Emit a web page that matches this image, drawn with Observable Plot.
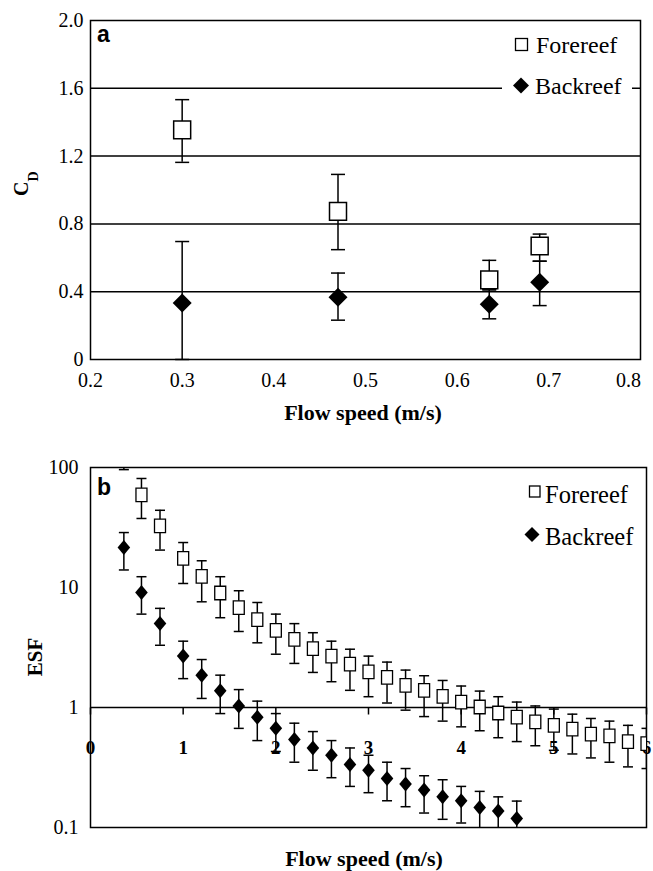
<!DOCTYPE html>
<html><head><meta charset="utf-8">
<script src="https://cdn.jsdelivr.net/npm/d3@7"></script>
<script src="https://cdn.jsdelivr.net/npm/@observablehq/plot@0.6"></script>
<style>
body{margin:0;background:#fff;}
#wrap{position:relative;width:653px;height:871px;overflow:hidden;font-family:"Liberation Serif","Times New Roman",serif;}
#wrap > div{position:absolute;left:0;}
#wrap svg{font-family:"Liberation Serif","Times New Roman",serif !important;}
#wrap svg text.sans{font-family:"Liberation Sans",Arial,sans-serif !important;}
</style></head><body><div id="wrap"><div id="pa" style="top:0"></div><div id="pb" style="top:430px"></div></div>
<script>
// ---------- Panel a: drag coefficient ----------
const speedA = [0.30, 0.47, 0.635, 0.69];
const foreCd = [1.355, 0.874, 0.47, 0.67];
const foreCdLo = [1.163, 0.648, 0.415, 0.58];
const foreCdHi = [1.533, 1.092, 0.585, 0.74];
const backCd = [0.333, 0.367, 0.326, 0.456];
const backCdLo = [0.0, 0.232, 0.24, 0.318];
const backCdHi = [0.696, 0.51, 0.41, 0.58];
const cdTicks = [0, 0.4, 0.8, 1.2, 1.6, 2.0];
const speedTicksA = [0.2, 0.3, 0.4, 0.5, 0.6, 0.7, 0.8];

// ---------- Panel b: environmental stress factor ----------
const speedFore = [0.36, 0.55, 0.75, 1.0, 1.2, 1.4, 1.6, 1.8, 2.0, 2.2, 2.4, 2.6, 2.8, 3.0, 3.2, 3.4, 3.6, 3.8, 4.0, 4.2, 4.4, 4.6, 4.8, 5.0, 5.2, 5.4, 5.6, 5.8, 6.0];
const foreESF = [170, 59.2, 32.6, 17.5, 12.4, 9.0, 6.8, 5.4, 4.4, 3.69, 3.1, 2.68, 2.30, 1.98, 1.78, 1.53, 1.39, 1.24, 1.11, 1.01, 0.90, 0.83, 0.76, 0.71, 0.66, 0.60, 0.58, 0.52, 0.50];
const foreESFHi = [250, 81, 44, 23.7, 16.7, 12.3, 9.4, 7.5, 6.0, 5.0, 4.2, 3.57, 3.06, 2.68, 2.39, 2.05, 1.84, 1.68, 1.51, 1.37, 1.23, 1.11, 1.03, 0.97, 0.88, 0.81, 0.77, 0.71, 0.67];
const foreESFLo = [96, 37.6, 20.5, 10.8, 7.6, 5.6, 4.3, 3.46, 2.78, 2.33, 1.96, 1.64, 1.39, 1.23, 1.09, 0.95, 0.84, 0.77, 0.69, 0.64, 0.56, 0.52, 0.48, 0.44, 0.41, 0.38, 0.35, 0.32, 0.31];
const speedBack = [0.36, 0.55, 0.75, 1.0, 1.2, 1.4, 1.6, 1.8, 2.0, 2.2, 2.4, 2.6, 2.8, 3.0, 3.2, 3.4, 3.6, 3.8, 4.0, 4.2, 4.4, 4.6];
const backESF = [21.5, 9.1, 5.0, 2.68, 1.86, 1.38, 1.03, 0.83, 0.67, 0.54, 0.46, 0.40, 0.335, 0.30, 0.256, 0.23, 0.205, 0.18, 0.167, 0.147, 0.137, 0.119];
const backESFHi = [28.7, 12.3, 6.7, 3.57, 2.51, 1.86, 1.41, 1.13, 0.89, 0.74, 0.63, 0.53, 0.46, 0.40, 0.35, 0.31, 0.27, 0.25, 0.22, 0.20, 0.18, 0.166];
const backESFLo = [14.0, 6.0, 3.3, 1.74, 1.19, 0.89, 0.67, 0.53, 0.43, 0.35, 0.30, 0.26, 0.22, 0.195, 0.167, 0.149, 0.132, 0.117, 0.109, 0.095, 0.09, 0.085];
const esfTicks = [0.1, 1, 10, 100];
const speedTicksB = [0, 1, 2, 3, 4, 5, 6];

const seriesNames = ["Forereef", "Backreef"];

// ---------- symbols ----------
const sym = fn => ({draw: fn});
const rectSym = (hw, hh) => sym(c => { c.moveTo(-hw, -hh); c.lineTo(hw, -hh); c.lineTo(hw, hh); c.lineTo(-hw, hh); c.closePath(); });
const diaSym = (hw, hh) => sym(c => { c.moveTo(0, -hh); c.lineTo(hw, 0); c.lineTo(0, hh); c.lineTo(-hw, 0); c.closePath(); });
const capSym = hw => sym(c => { c.moveTo(-hw, 0); c.lineTo(hw, 0); });
const vtickSym = h => sym(c => { c.moveTo(0, 0); c.lineTo(0, h); });

const rows = (xs, ys, lo, hi) => xs.map((x, i) => ({x, y: ys[i], lo: lo[i], hi: hi[i]}));
const foreA = rows(speedA, foreCd, foreCdLo, foreCdHi);
const backA = rows(speedA, backCd, backCdLo, backCdHi);
const foreB = rows(speedFore, foreESF, foreESFLo, foreESFHi);
const backB = rows(speedBack, backESF, backESFLo, backESFHi);

const errMarks = (data, cap, clip) => [
  Plot.ruleX(data, {x: "x", y1: "lo", y2: "hi", stroke: "#000", strokeWidth: 1.5, clip}),
  Plot.dot(data, {x: "x", y: "lo", symbol: capSym(cap), stroke: "#000", fill: "none", strokeWidth: 1.5, clip}),
  Plot.dot(data, {x: "x", y: "hi", symbol: capSym(cap), stroke: "#000", fill: "none", strokeWidth: 1.5, clip})
];

const baseStyle = {fontFamily: "'Liberation Serif','Times New Roman',serif", fontSize: "20px", color: "#000", background: "#fff"};

const pa = Plot.plot({
  width: 653, height: 430,
  marginLeft: 90, marginRight: 13, marginTop: 20, marginBottom: 71,
  style: baseStyle,
  x: {domain: [0.2, 0.8], label: null},
  y: {domain: [0, 2], label: null},
  marks: [
    Plot.ruleY(cdTicks.filter(d => d > 0 && d < 2), {stroke: "#000", strokeWidth: 1.5}),
    Plot.axisY(cdTicks, {tickFormat: d => d === 0 ? "0" : d.toFixed(1), tickSize: 0, tickPadding: 7, label: null, fontSize: 20}),
    Plot.axisX(speedTicksA.slice(0, -1), {tickFormat: d => d.toFixed(1), tickSize: 0, tickPadding: 13, label: null, fontSize: 20}),
    Plot.axisX(speedTicksA.slice(-1), {tickFormat: d => d.toFixed(1), tickSize: 0, tickPadding: 13, label: null, fontSize: 20, dx: -12}),
    Plot.frame({stroke: "#000", strokeWidth: 1.5}),
    ...errMarks(backA, 7, false),
    Plot.dot(backA, {x: "x", y: "y", symbol: diaSym(9.5, 9.5), fill: "#000", stroke: "none"}),
    ...errMarks(foreA, 7, false),
    Plot.dot(foreA, {x: "x", y: "y", symbol: rectSym(8.5, 8.8), fill: "#fff", stroke: "#000", strokeWidth: 1.5})
  ]
});
document.getElementById("pa").appendChild(pa);

const pb = Plot.plot({
  width: 653, height: 441,
  marginLeft: 90, marginRight: 7, marginTop: 37, marginBottom: 44,
  style: baseStyle,
  x: {domain: [0, 6], axis: null},
  y: {type: "log", domain: [0.1, 100], label: null},
  marks: [
    Plot.axisY(esfTicks, {tickFormat: d => String(d), tickSize: 0, tickPadding: 12, label: null, fontSize: 20}),
    Plot.ruleY([1], {stroke: "#000", strokeWidth: 1.5}),
    Plot.dot(speedTicksB, {x: d => d, y: () => 1, symbol: vtickSym(7), stroke: "#000", fill: "none", strokeWidth: 1.5}),
    Plot.text(speedTicksB, {x: d => d, y: () => 1, text: d => String(d), dy: 40, fontWeight: "bold", fontSize: 19}),
    Plot.frame({stroke: "#000", strokeWidth: 1.5}),
    ...errMarks(backB, 5, true),
    Plot.dot(backB, {x: "x", y: "y", symbol: diaSym(6.3, 7.5), fill: "#000", stroke: "none", clip: true}),
    ...errMarks(foreB, 5, true),
    Plot.dot(foreB, {x: "x", y: "y", symbol: rectSym(5.5, 6.75), fill: "#fff", stroke: "#000", strokeWidth: 1.3, clip: true})
  ]
});
document.getElementById("pb").appendChild(pb);

// ---------- overlay: titles, panel letters, legends ----------
const ov = d3.select("#wrap").append("svg")
  .attr("width", 653).attr("height", 871)
  .style("position", "absolute").style("left", 0).style("top", 0);

// panel letters
ov.append("text").attr("class", "sans").attr("x", 97).attr("y", 42).attr("font-weight", "bold").attr("font-size", 23).text("a");
ov.append("text").attr("class", "sans").attr("x", 97).attr("y", 495).attr("font-weight", "bold").attr("font-size", 23).text("b");

// axis titles
ov.append("text").attr("x", 363).attr("y", 420).attr("text-anchor", "middle").attr("font-weight", "bold").attr("font-size", 22).text("Flow speed (m/s)");
ov.append("text").attr("x", 364).attr("y", 866).attr("text-anchor", "middle").attr("font-weight", "bold").attr("font-size", 22).text("Flow speed (m/s)");
const cd = ov.append("text").attr("transform", "translate(28,196) rotate(-90)").attr("font-weight", "bold").attr("font-size", 20);
cd.append("tspan").text("C");
cd.append("tspan").attr("dy", 10).attr("font-size", 14).text("D");
ov.append("text").attr("transform", "translate(42,657) rotate(-90)").attr("text-anchor", "middle").attr("font-weight", "bold").attr("font-size", 21).text("ESF");

// legend a (white box interrupts the 1.6 gridline)
ov.append("rect").attr("x", 502).attr("y", 30).attr("width", 130).attr("height", 72).attr("fill", "#fff");
ov.append("rect").attr("x", 515.5).attr("y", 38.5).attr("width", 12).attr("height", 12).attr("fill", "#fff").attr("stroke", "#000").attr("stroke-width", 1.3);
ov.append("text").attr("x", 536).attr("y", 53).attr("font-size", 24).text(seriesNames[0]);
ov.append("path").attr("d", "M521,77.5L529,85.5L521,93.5L513,85.5Z").attr("fill", "#000");
ov.append("text").attr("x", 535).attr("y", 94).attr("font-size", 24).text(seriesNames[1]);

// legend b
ov.append("rect").attr("x", 529.5).attr("y", 486).attr("width", 10.5).attr("height", 11).attr("fill", "#fff").attr("stroke", "#000").attr("stroke-width", 1.3);
ov.append("text").attr("x", 545).attr("y", 503).attr("font-size", 24.5).text(seriesNames[0]);
ov.append("path").attr("d", "M532,527L539.5,534.5L532,542L524.5,534.5Z").attr("fill", "#000");
ov.append("text").attr("x", 545).attr("y", 545).attr("font-size", 24.5).text(seriesNames[1]);
</script></body></html>
